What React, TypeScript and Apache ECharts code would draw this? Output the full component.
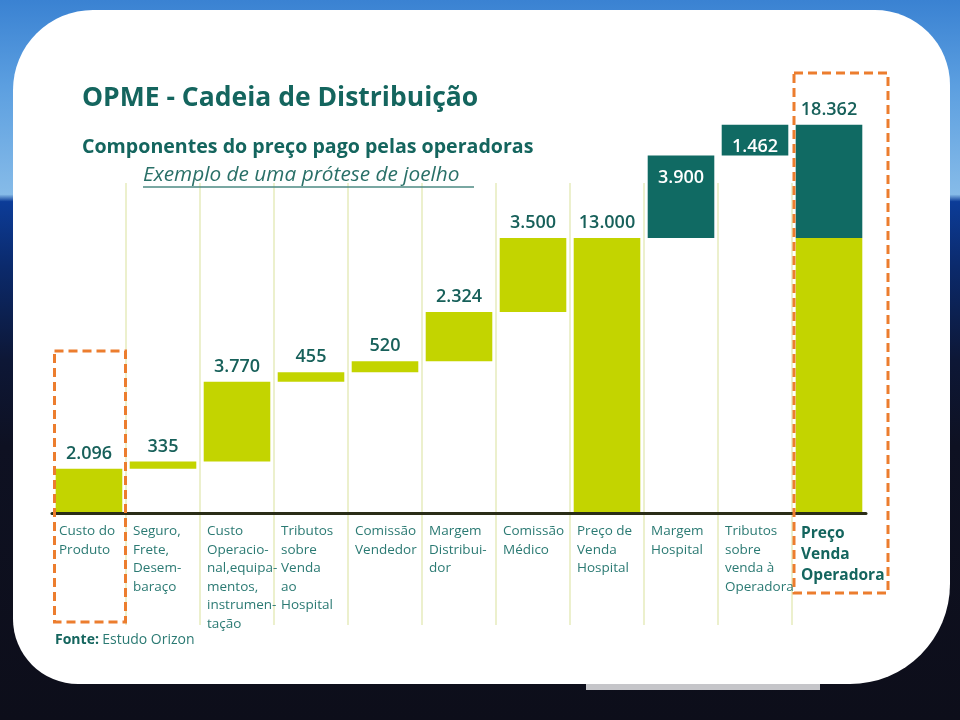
import React, { useEffect, useRef } from "react";
import * as echarts from "echarts";

const categories = [
  "Custo do\nProduto",
  "Seguro,\nFrete,\nDesem-\nbaraço",
  "Custo\nOperacio-\nnal,equipa-\nmentos,\ninstrumen-\ntação",
  "Tributos\nsobre\nVenda\nao\nHospital",
  "Comissão\nVendedor",
  "Margem\nDistribui-\ndor",
  "Comissão\nMédico",
  "Preço de\nVenda\nHospital",
  "Margem\nHospital",
  "Tributos\nsobre\nvenda à\nOperadora",
  "Preço\nVenda\nOperadora",
];

// step values as shown on the chart
const stepValues = [2096, 335, 3770, 455, 520, 2324, 3500, 13000, 3900, 1462, 18362];
// which steps are totals (drawn from zero)
const isTotal = [false, false, false, false, false, false, false, true, false, false, true];
// colour group of increments: "g" green, "t" teal
const stepGroup = ["g", "g", "g", "g", "g", "g", "g", "g", "t", "t", "t"];

const titleText = "OPME - Cadeia de Distribuição";
const subtitleText = "Componentes do preço pago pelas operadoras";
const subsubText = "Exemplo de uma prótese de joelho";

const GREEN = "#c3d400";
const TEAL = "#106a63";
const LABEL_TEAL = "#17605a";
const CAT_TEAL = "#2b7a73";
const ORANGE = "#ec7d2e";

function fmt(v: number) {
  const s = String(Math.round(v));
  return s.replace(/\B(?=(\d{3})+(?!\d))/g, ".");
}

function buildSeries() {
  const base: (number | string)[] = [];
  const green: any[] = [];
  const teal: any[] = [];
  let running = 0;
  let lastTotal = 0;
  stepValues.forEach((v, i) => {
    if (isTotal[i]) {
      base.push(0);
      if (stepGroup[i] === "t") {
        green.push({ value: lastTotal, label: { show: false } });
        teal.push({
          value: v - lastTotal,
          label: { show: true, position: "top", distance: 8, color: LABEL_TEAL, formatter: () => fmt(v) },
        });
      } else {
        green.push({ value: v });
        teal.push("-");
      }
      running = v;
      lastTotal = v;
    } else {
      base.push(running);
      if (stepGroup[i] === "g") {
        green.push({ value: v });
        teal.push("-");
      } else {
        green.push("-");
        teal.push({ value: v });
      }
      running += v;
    }
  });
  return { base, green, teal };
}

export default function App() {
  const ref = useRef<HTMLDivElement>(null);
  useEffect(() => {
    if (!ref.current) return;
    const chart = echarts.init(ref.current, null, { renderer: "svg" });
    const { base, green, teal } = buildSeries();

    const labelFont = {
      fontFamily: "Open Sans",
      fontSize: 18,
      fontWeight: 600 as any,
    };

    const sepCategories = categories.slice(0, categories.length - 1);

    const option: any = {
      animation: false,
      graphic: [
        {
          type: "rect",
          z: -3,
          shape: { x: 0, y: 0, width: 960, height: 720 },
          style: {
            fill: new echarts.graphic.LinearGradient(0, 0, 0, 1, [
              { offset: 0, color: "#3a82d2" },
              { offset: 0.12, color: "#5c9fe0" },
              { offset: 0.27, color: "#86bbe8" },
              { offset: 0.28, color: "#0c3c98" },
              { offset: 0.37, color: "#0b2a6c" },
              { offset: 0.5, color: "#0d1736" },
              { offset: 0.62, color: "#0e1122" },
              { offset: 1, color: "#0d0e1a" },
            ]),
          },
        },
        {
          type: "rect",
          z: -2,
          shape: { x: 586, y: 680, width: 234, height: 10 },
          style: { fill: "#c5c5c9" },
        },
        {
          type: "rect",
          z: -1,
          shape: { x: 13, y: 10, width: 937, height: 674, r: [80, 75, 100, 65] },
          style: { fill: "#ffffff" },
        },
        {
          type: "text",
          z: 10,
          x: 82,
          y: 96,
          style: {
            text: titleText,
            fill: "#14655e",
            fontFamily: "Open Sans",
            fontWeight: 700,
            fontSize: 26.5,
            textVerticalAlign: "middle",
          },
        },
        {
          type: "text",
          z: 10,
          x: 82,
          y: 145,
          style: {
            text: subtitleText,
            fill: "#14655e",
            fontFamily: "Open Sans",
            fontWeight: 700,
            fontSize: 19.6,
            textVerticalAlign: "middle",
          },
        },
        {
          type: "text",
          z: 10,
          x: 143,
          y: 173,
          style: {
            text: subsubText,
            fill: "#2a7068",
            fontFamily: "Open Sans",
            fontStyle: "italic",
            fontSize: 20.8,
            textVerticalAlign: "middle",
          },
        },
        {
          type: "line",
          z: 10,
          shape: { x1: 143, y1: 187, x2: 474, y2: 187 },
          style: { stroke: "#4d8a83", lineWidth: 1.5 },
        },
        {
          type: "text",
          z: 10,
          x: 55,
          y: 638,
          style: {
            rich: {
              b: { fontFamily: "Open Sans", fontWeight: 700, fontSize: 14, fill: "#14655e" },
              n: { fontFamily: "Open Sans", fontSize: 14, fill: "#2b7a73" },
            },
            text: "{b|Fonte:} {n|Estudo Orizon}",
            textVerticalAlign: "middle",
          },
        },
        {
          type: "rect",
          z: 20,
          shape: { x: 54.5, y: 351, width: 71, height: 271 },
          style: { fill: "none", stroke: ORANGE, lineWidth: 3, lineDash: [9, 5] },
        },
        {
          type: "rect",
          z: 20,
          shape: { x: 794, y: 73, width: 94, height: 520 },
          style: { fill: "none", stroke: ORANGE, lineWidth: 3, lineDash: [9, 5] },
        },
      ],
      grid: [
        { left: 52, top: 90, width: 814, height: 423 },
        { left: 52, top: 183, width: 740, height: 442 },
      ],
      xAxis: [
        {
          type: "category",
          gridIndex: 0,
          data: categories,
          z: 5,
          axisLine: { show: true, lineStyle: { color: "#2a2d17", width: 3 } },
          axisTick: { show: false },
          splitLine: { show: false },
          axisLabel: {
            interval: 0,
            margin: 8,
            lineHeight: 18.5,
            formatter: (val: string, idx: number) => {
              const key = idx === categories.length - 1 ? "b" : "a";
              return val
                .split("\n")
                .map((l) => `{${key}|${l}}`)
                .join("\n");
            },
            rich: {
              a: {
                width: 60,
                align: "left",
                fontFamily: "Open Sans",
                fontSize: 13.5,
                lineHeight: 18.5,
                color: CAT_TEAL,
              },
              b: {
                width: 56,
                align: "left",
                fontFamily: "Open Sans",
                fontWeight: 700,
                fontSize: 15.5,
                lineHeight: 21,
                color: "#14655e",
              },
            },
          },
        },
        {
          type: "category",
          gridIndex: 1,
          data: sepCategories,
          z: 1,
          axisLine: { show: false },
          axisTick: { show: false },
          axisLabel: { show: false },
          splitLine: {
            show: true,
            interval: (index: number) => index > 0,
            lineStyle: { color: "#e6ebbd", width: 1.5 },
          },
        },
      ],
      yAxis: [
        { type: "value", gridIndex: 0, min: 0, max: 20000, show: false },
        { type: "value", gridIndex: 1, min: 0, max: 1, show: false },
      ],
      series: [
        {
          name: "base",
          type: "bar",
          stack: "w",
          barWidth: "90%",
          itemStyle: { color: "transparent" },
          data: base,
          z: 3,
          silent: true,
        },
        {
          name: "verde",
          type: "bar",
          stack: "w",
          barWidth: "90%",
          itemStyle: { color: GREEN },
          z: 3,
          label: {
            show: true,
            position: "top",
            distance: 8,
            color: LABEL_TEAL,
            ...labelFont,
            formatter: (p: any) => fmt(p.value),
          },
          data: green,
        },
        {
          name: "teal",
          type: "bar",
          stack: "w",
          barWidth: "90%",
          itemStyle: { color: TEAL },
          z: 3,
          label: {
            show: true,
            position: "insideTop",
            distance: 11,
            color: "#ffffff",
            ...labelFont,
            formatter: (p: any) => fmt(p.value),
          },
          data: teal,
        },
      ],
    };
    chart.setOption(option);
    return () => chart.dispose();
  }, []);
  return (
    <div
      ref={ref}
      style={{ position: "fixed", left: 0, top: 0, width: 960, height: 720 }}
    />
  );
}
